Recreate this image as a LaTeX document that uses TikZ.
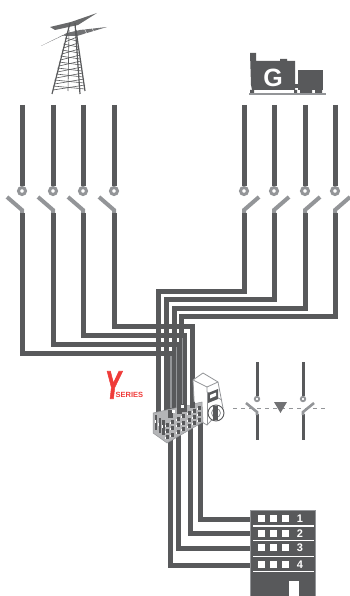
\documentclass[tikz,border=0pt]{standalone}
\usepackage{fontspec}
\setmainfont{Liberation Sans}
\newfontface\markface[FakeBold=2]{Liberation Sans Bold Italic}
\usepackage{xcolor}
\usetikzlibrary{calc}
\definecolor{darkbus}{HTML}{58595B}
\definecolor{midgray}{HTML}{939598}
\definecolor{redmark}{HTML}{EF3B39}
\tikzset{
  bus/.style={draw=darkbus, line width=5pt},
  hub/.style={circle, draw=midgray, fill=white, line width=3pt, minimum size=7pt, inner sep=0pt},
  smallhub/.style={circle, draw=midgray, fill=white, line width=1.8pt, minimum size=4.5pt, inner sep=0pt},
  blade/.style={draw=midgray, line width=4pt},
  smallbus/.style={draw=darkbus, line width=3pt},
  smallblade/.style={draw=midgray, line width=2.6pt},
  floornum/.style={text=white, font=\bfseries\fontsize{11}{11}\selectfont, inner sep=0pt},
  steel/.style={draw=darkbus, line width=0.6pt},
  leg/.style={draw=darkbus, line width=1.2pt},
  cubeline/.style={draw=midgray, line width=0.8pt, fill=white}
}
\begin{document}
\begin{tikzpicture}[x=1pt, y=-1pt]
\useasboundingbox (0,0) rectangle (350,596);
% pylon
\fill[darkbus!90] (50,27) -- (71,22) -- (97,13) -- (78,25) -- (55,30) -- cycle;
\fill[darkbus!85] (41,46) -- (67,33) -- (80,30) -- (107,27) -- (77,36) -- (62,36) -- cycle;
\foreach \xx in {56,63,85} \draw[white, line width=0.4pt] (\xx,33) -- (\xx+4,43);
\foreach \xx in {84,92} \draw[white, line width=0.4pt] (\xx,28) -- (\xx+3,34);
\draw[leg] (70,23) -- (52,94);
\draw[leg] (75,23) -- (80,94);
\draw[leg] (76,30) -- (85,91);
\draw[steel] (69,30) -- (68,91);
\foreach \yy/\wa/\wb in {38/65/77,44/63.5/78,50/62/79,56/60.5/80,62/59/81,68/57.5/82,74/56/83,80/54.5/84,86/53/85} {
  \draw[steel] (\wa,\yy) -- (\wb,\yy+3);
  \draw[steel] (\wb,\yy-1) -- (\wa,\yy+4);
}
% generator
\fill[darkbus] (250,53) -- (256,53) -- (256,61) -- (280,61) -- (280,59) -- (287,59) -- (287,61) -- (295,61) -- (295,90) -- (252,90) -- (251,85) -- cycle;
\fill[darkbus] (298,70) -- (323,70) -- (323,90) -- (298,90) -- cycle;
\fill[darkbus] (294,84) rectangle (299,88);
\fill[darkbus] (250,90) rectangle (254,93) (294,90) rectangle (297,93) (300,90) rectangle (312,93) (315,90) rectangle (322,93);
\node[text=white, font=\bfseries\fontsize{25}{25}\selectfont, inner sep=0pt] (genG) at (273,78) {G};
\draw[midgray, line width=1.3pt] (249,94) -- (326,94);
% left switches
\foreach \nm/\xx in {a/22,b/53,c/83,d/114} {
  \coordinate (top\nm) at (\xx,105);
  \node[hub] (hub\nm) at (\xx,191) {};
  \draw[bus] (top\nm) -- (hub\nm);
  \coordinate (low\nm) at (\xx,213);
  \draw[blade] (\xx-15,197) -- (\xx,210) -- (low\nm);
}
% right switches
\foreach \nm/\xx in {e/244,f/274,g/305,h/335} {
  \coordinate (top\nm) at (\xx,105);
  \node[hub] (hub\nm) at (\xx,191) {};
  \draw[bus] (top\nm) -- (hub\nm);
  \coordinate (low\nm) at (\xx,213);
  \draw[blade] (\xx+15,197) -- (\xx,210) -- (low\nm);
}
% entry points on the terminal block
\coordinate (ine) at (158.5,418);
\coordinate (inf) at (166,416);
\coordinate (ing) at (174,414);
\coordinate (inh) at (181,412);
\coordinate (ina) at (170.5,418);
\coordinate (inb) at (179.5,414);
\coordinate (inc) at (184.5,412);
\coordinate (ind) at (192,408);
\draw[bus] (lowe) |- (ine |- 0,291) -- (ine);
\draw[bus] (lowf) |- (inf |- 0,299) -- (inf);
\draw[bus] (lowg) |- (ing |- 0,308) -- (ing);
\draw[bus] (lowh) |- (inh |- 0,316) -- (inh);
\draw[bus] (lowd) |- (ind |- 0,326) -- (ind);
\draw[bus] (lowc) |- (inc |- 0,335) -- (inc);
\draw[bus] (lowb) |- (inb |- 0,344) -- (inb);
\draw[bus] (lowa) |- (ina |- 0,353) -- (ina);
\draw[midgray, line width=1.2pt] (171,356) -- (171,408);
\draw[midgray, line width=0.5pt] (176,347) -- (176,408);
\draw[midgray, line width=0.8pt] (182.6,338) -- (182.6,405);
% building
\node[draw=midgray, fill=darkbus, line width=1pt, minimum width=65pt, minimum height=86pt, inner sep=0pt, anchor=north west] (bldg) at (250,510) {};
\foreach \yy/\lab/\sepy in {518.5/1/526,533.5/2/540.5,547.5/3/556.5,564.5/4/571.5} {
  \foreach \xx in {261.5,273.5,285.5} \fill[white] (\xx-3.5,\yy-3.5) rectangle (\xx+3.5,\yy+3.5);
  \fill[white] (253,\sepy-0.8) rectangle (314,\sepy+0.8);
  \node[floornum] (num\lab) at (300,\yy) {\lab};
}
\fill[white] (289,581) rectangle (299,596);
% outgoing lines
\coordinate (outa) at (200,420);
\coordinate (outb) at (190,425);
\coordinate (outc) at (178,430);
\coordinate (outd) at (170,435);
\draw[bus] (outa) |- (bldg.west |- 0,519);
\draw[bus] (outb) |- (bldg.west |- 0,533);
\draw[bus] (outc) |- (bldg.west |- 0,548);
\draw[bus] (outd) |- (bldg.west |- 0,565);
% changeover unit
\draw[cubeline] (193,380) -- (203,373) -- (218,382) -- (223,408) -- (207,425) -- (195,418) -- cycle;
\draw[cubeline] (207,387) -- (218,382);
\draw[cubeline] (207,387) -- (207,425);
\draw[cubeline] (193,380) -- (207,387);
\draw[cubeline] (207,387) -- (207,392) -- (222,400);
\fill[darkbus] (208,393) -- (218,389) -- (218,399) -- (208,403) -- cycle;
\fill[white] (210,395) -- (216,392.5) -- (216,396) -- (210,398.5) -- cycle;
\draw[darkbus, line width=0.9pt, fill=white] (216,413) circle (8pt);
\draw[midgray, line width=0.8pt] (216,413) circle (4.5pt);
\fill[darkbus] (213,406) rectangle (218,420);
% terminal block
\fill[midgray!70] (153,413) -- (202,402) -- (203,422) -- (167,443) -- (153,433) -- cycle;
\foreach \cc in {0,...,6} {
  \foreach \rr in {0,1,2} {
    \fill[darkbus] ($(166,423)+(\cc*5.4,-\cc*2.9)+(0,\rr*6.2)$) rectangle ++(3,4);
    \fill[white] ($(165,425)+(\cc*5.4,-\cc*2.9)+(0,\rr*6.2)$) rectangle ++(1,2);
  }
}
\foreach \rr in {0,1,2} {
  \fill[darkbus] ($(155,415)+(\rr*3.6,\rr*2.6)$) rectangle ++(2.4,15);
  \fill[white] ($(154.5,420)+(\rr*3.6,\rr*2.6)$) rectangle ++(1,3);
}
\draw[midgray, line width=0.5pt] (153,413) -- (202,402) -- (203,422) -- (167,443) -- (153,433) -- cycle;
\draw[bus] (ina) -- ++(0,-8);
\draw[bus] (inb) -- ++(0,-8);
\draw[bus] (inc) -- ++(0,-8);
\draw[bus] (ind) -- ++(0,-6);
\foreach \xx/\yy in {173/410,182/405,188/402} \fill[white] (\xx-1.5,\yy) rectangle (\xx+1.5,\yy+2.5);
% series mark
\node[text=redmark, font=\markface\fontsize{38}{38}\selectfont, inner sep=0pt, xscale=.62, yscale=1.05] (markY) at (113,385) {Y};
\node[text=redmark, font=\bfseries\fontsize{7.5}{7.5}\selectfont, inner sep=0pt, anchor=west] (markS) at (115.5,394.5) {SERIES};
% small switches
\draw[midgray, line width=1pt, dash pattern=on 4pt off 4pt] (233,408) -- (328,408);
\foreach \nm/\xx/\dd in {p/257/-11,q/303/11} {
  \coordinate (stop\nm) at (\xx,362);
  \node[smallhub] (shub\nm) at (\xx,399) {};
  \draw[smallbus] (stop\nm) -- (shub\nm);
  \coordinate (slow\nm) at (\xx,440);
  \draw[smallbus] (\xx,414) -- (slow\nm);
  \draw[smallblade] (\xx+\dd,403) -- (\xx,412) -- (\xx,415);
}
\fill[darkbus!85] (274,402) -- (287,402) -- (280.5,413) -- cycle;
\end{tikzpicture}
\end{document}
